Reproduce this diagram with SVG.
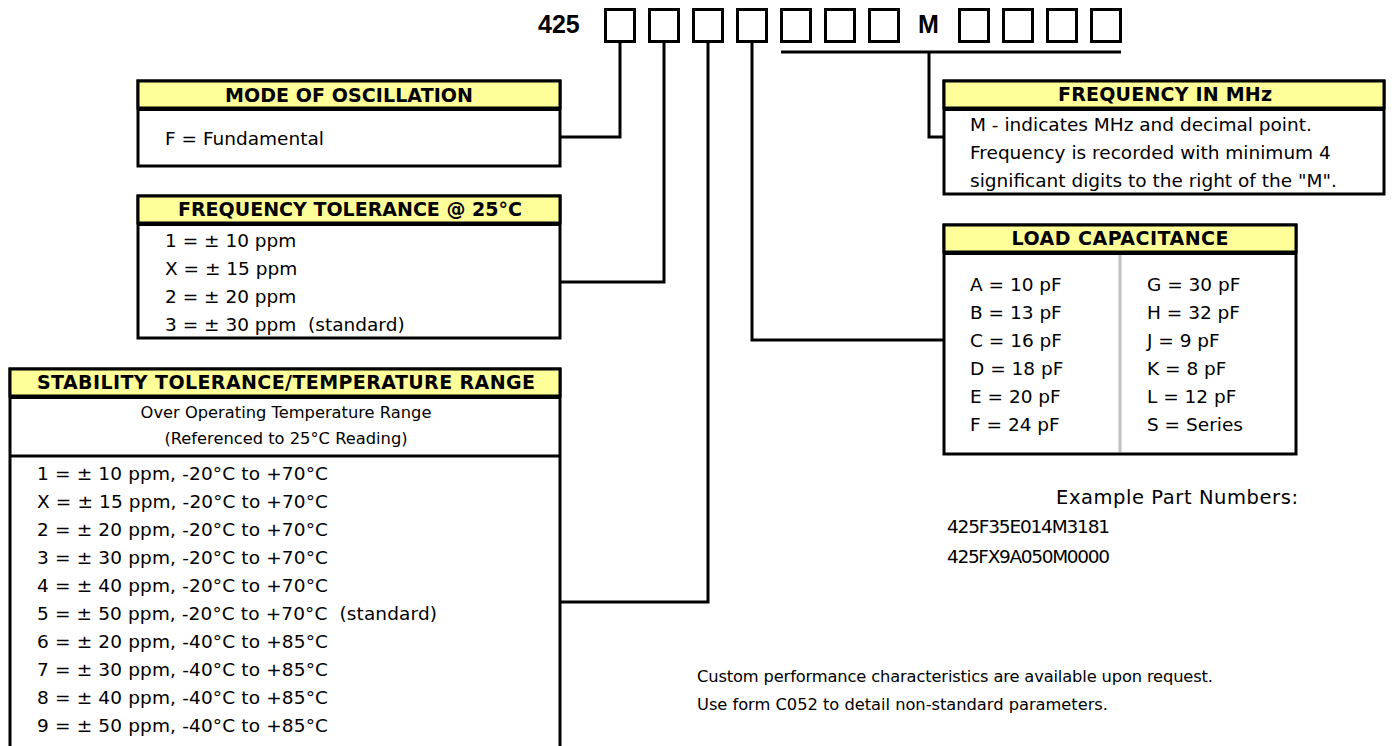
<svg xmlns="http://www.w3.org/2000/svg" width="1392" height="746" viewBox="0 0 1392 746">
<style>
.t{font-family:"DejaVu Sans",Verdana,sans-serif;font-size:18.5px;fill:#000}
.s{font-family:"DejaVu Sans",Verdana,sans-serif;font-size:16.3px;fill:#000}
.h{font-family:"DejaVu Sans",Verdana,sans-serif;font-size:19px;font-weight:bold;fill:#000;text-anchor:middle}
.big{font-family:"Liberation Sans",Arial,sans-serif;font-size:25px;font-weight:bold;fill:#000}
.box{fill:#fff;stroke:#000;stroke-width:3}
.hd{fill:#ffff99;stroke:#000;stroke-width:3}
.sep{stroke:#000;stroke-width:4}
.cell{fill:none;stroke:#000;stroke-width:3}
.con{fill:none;stroke:#000;stroke-width:3}
</style>
<rect width="1392" height="746" fill="#fff"/>
<g id="partnumber">
<text class="big" x="538" y="33">425</text>
<rect class="cell" x="605.5" y="9.5" width="29" height="32"/>
<rect class="cell" x="649.5" y="9.5" width="29" height="32"/>
<rect class="cell" x="693.5" y="9.5" width="29" height="32"/>
<rect class="cell" x="737.5" y="9.5" width="29" height="32"/>
<rect class="cell" x="781.5" y="9.5" width="29" height="32"/>
<rect class="cell" x="825.5" y="9.5" width="29" height="32"/>
<rect class="cell" x="869.5" y="9.5" width="29" height="32"/>
<text class="big" x="918" y="33">M</text>
<rect class="cell" x="959.5" y="9.5" width="29" height="32"/>
<rect class="cell" x="1003.5" y="9.5" width="29" height="32"/>
<rect class="cell" x="1047.5" y="9.5" width="29" height="32"/>
<rect class="cell" x="1091.5" y="9.5" width="29" height="32"/>
</g>
<g id="connectors">
<path class="con" d="M620,42 V137 H561"/>
<path class="con" d="M664,42 V282 H561"/>
<path class="con" d="M708,42 V602 H561"/>
<path class="con" d="M752,42 V340 H943"/>
<path class="con" d="M781,52 H1121"/>
<path class="con" d="M929,52 V137 H943"/>
</g>
<g id="mode">
<rect class="box" x="138" y="81" width="422" height="85"/>
<rect class="hd" x="138" y="81" width="422" height="27"/>
<line class="sep" x1="138" y1="109" x2="560" y2="109"/>
<text class="h" x="349" y="102" textLength="248">MODE OF OSCILLATION</text>
<text class="t" x="165" y="145">F = Fundamental</text>
</g>
<g id="freqtol">
<rect class="box" x="138" y="196" width="422" height="142"/>
<rect class="hd" x="138" y="196" width="422" height="27"/>
<line class="sep" x1="138" y1="224" x2="560" y2="224"/>
<text class="h" x="350" y="216" textLength="344">FREQUENCY TOLERANCE @ 25°C</text>
<text class="t" x="165" y="247">1 = ± 10 ppm</text>
<text class="t" x="165" y="275">X = ± 15 ppm</text>
<text class="t" x="165" y="303">2 = ± 20 ppm</text>
<text class="t" x="165" y="331" xml:space="preserve">3 = ± 30 ppm  (standard)</text>
</g>
<g id="stability">
<rect class="box" x="10" y="369" width="550" height="400"/>
<rect class="hd" x="10" y="369" width="550" height="27"/>
<line class="sep" x1="10" y1="397" x2="560" y2="397"/>
<line class="con" x1="10" y1="456" x2="560" y2="456"/>
<text class="h" x="286" y="389" textLength="498">STABILITY TOLERANCE/TEMPERATURE RANGE</text>
<text class="s" x="286" y="418" text-anchor="middle">Over Operating Temperature Range</text>
<text class="s" x="286" y="444" text-anchor="middle">(Referenced to 25°C Reading)</text>
<text class="t" x="37" y="480" textLength="291">1 = ± 10 ppm, -20°C to +70°C</text>
<text class="t" x="37" y="508" textLength="291">X = ± 15 ppm, -20°C to +70°C</text>
<text class="t" x="37" y="536" textLength="291">2 = ± 20 ppm, -20°C to +70°C</text>
<text class="t" x="37" y="564" textLength="291">3 = ± 30 ppm, -20°C to +70°C</text>
<text class="t" x="37" y="592" textLength="291">4 = ± 40 ppm, -20°C to +70°C</text>
<text class="t" x="37" y="620" textLength="400" xml:space="preserve">5 = ± 50 ppm, -20°C to +70°C  (standard)</text>
<text class="t" x="37" y="648" textLength="291">6 = ± 20 ppm, -40°C to +85°C</text>
<text class="t" x="37" y="676" textLength="291">7 = ± 30 ppm, -40°C to +85°C</text>
<text class="t" x="37" y="704" textLength="291">8 = ± 40 ppm, -40°C to +85°C</text>
<text class="t" x="37" y="732" textLength="291">9 = ± 50 ppm, -40°C to +85°C</text>
</g>
<g id="freqmhz">
<rect class="box" x="944" y="81" width="440" height="113"/>
<rect class="hd" x="944" y="81" width="440" height="27"/>
<line class="sep" x1="944" y1="109" x2="1384" y2="109"/>
<text class="h" x="1165" y="101" textLength="214">FREQUENCY IN MHz</text>
<text class="t" x="970" y="131">M - indicates MHz and decimal point.</text>
<text class="t" x="970" y="159">Frequency is recorded with minimum 4</text>
<text class="t" x="970" y="187">significant digits to the right of the "M".</text>
</g>
<g id="loadcap">
<rect class="box" x="944" y="225" width="352" height="229"/>
<rect class="hd" x="944" y="225" width="352" height="27"/>
<line class="sep" x1="944" y1="253" x2="1296" y2="253"/>
<line x1="1120" y1="255" x2="1120" y2="452" stroke="#c0c0c0" stroke-width="3"/>
<text class="h" x="1120" y="245" textLength="217">LOAD CAPACITANCE</text>
<text class="t" x="970" y="291">A = 10 pF</text>
<text class="t" x="970" y="319">B = 13 pF</text>
<text class="t" x="970" y="347">C = 16 pF</text>
<text class="t" x="970" y="375">D = 18 pF</text>
<text class="t" x="970" y="403">E = 20 pF</text>
<text class="t" x="970" y="431">F = 24 pF</text>
<text class="t" x="1147" y="291">G = 30 pF</text>
<text class="t" x="1147" y="319">H = 32 pF</text>
<text class="t" x="1147" y="347">J = 9 pF</text>
<text class="t" x="1147" y="375">K = 8 pF</text>
<text class="t" x="1147" y="403">L = 12 pF</text>
<text class="t" x="1147" y="431">S = Series</text>
</g>
<g id="examples">
<text class="t" x="1056" y="504" style="font-size:19.5px" textLength="242">Example Part Numbers:</text>
<text class="t" x="947" y="533" textLength="163">425F35E014M3181</text>
<text class="t" x="947" y="563" textLength="163">425FX9A050M0000</text>
</g>
<g id="notes">
<text class="s" x="697" y="682" textLength="516">Custom performance characteristics are available upon request.</text>
<text class="s" x="697" y="710" textLength="411">Use form C052 to detail non-standard parameters.</text>
</g>
</svg>
